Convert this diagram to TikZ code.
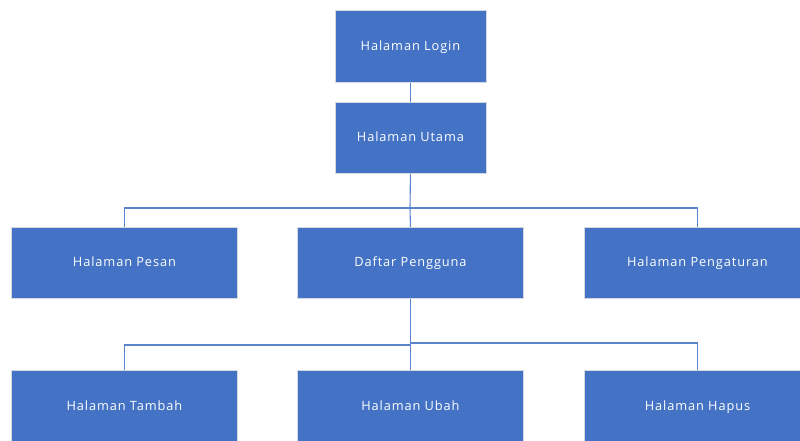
\documentclass[tikz,border=0pt]{standalone}
\usepackage{fontspec}
\setmainfont[LetterSpace=7]{Open Sans}
\definecolor{boxblue}{HTML}{4472C4}
\definecolor{linkblue}{HTML}{5A84CC}
\definecolor{rim}{HTML}{D4D8DF}
\begin{document}
\begin{tikzpicture}[x=1pt,y=-1pt,
  page/.style={draw=rim,line width=0.9pt,fill=boxblue,text=white,
    font=\fontsize{12.8}{15}\selectfont,inner sep=0pt,anchor=north west,
    text height=0.72em,text depth=0pt},
  link/.style={draw=linkblue,line width=1.1pt}]
\useasboundingbox (0,0) rectangle (800,440);
\clip (0,0) rectangle (800,440);
% top chain
\node[page,minimum width=151pt,minimum height=72pt] (login) at (334.5,10) {Halaman Login};
\node[page,minimum width=151pt,minimum height=71pt] (utama) at (334.5,102) {Halaman Utama};
% second level
\node[page,minimum width=226pt,minimum height=71pt] (pesan) at (11,227) {Halaman Pesan};
\node[page,minimum width=226pt,minimum height=71pt] (daftar) at (297,227) {Daftar Pengguna};
\node[page,minimum width=226pt,minimum height=71pt] (atur) at (584,227) {Halaman Pengaturan};
% third level
\node[page,minimum width=226pt,minimum height=72pt] (tambah) at (11,370) {Halaman Tambah};
\node[page,minimum width=226pt,minimum height=72pt] (ubah) at (297,370) {Halaman Ubah};
\node[page,minimum width=226pt,minimum height=72pt] (hapus) at (584,370) {Halaman Hapus};
% branch points
\coordinate (bus1) at (410,208);
\coordinate (bus2l) at (410,345);
\coordinate (bus2r) at (410,343);
% connectors
\draw[link] (login.south) -- (utama.north);
\draw[link] (utama.south) -- (bus1);
\draw[link] (pesan.north) |- (bus1) -| (atur.north);
\draw[link] (bus1) -- (daftar.north);
\draw[link] (daftar.south) -- (ubah.north);
\draw[link] (tambah.north) |- (bus2l);
\draw[link] (bus2r) -| (hapus.north);
\end{tikzpicture}
\end{document}
